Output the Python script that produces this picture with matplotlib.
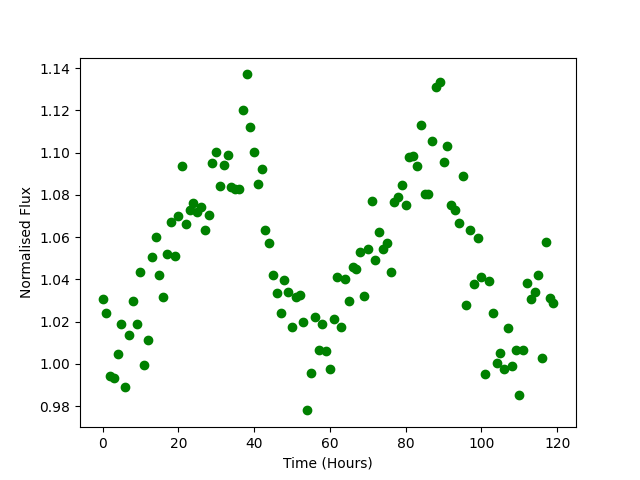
import matplotlib
matplotlib.use('Agg')
import numpy as np
import matplotlib.pyplot as plt

# hourly samples, 0..119
time_hours = np.arange(120)

flux = [
    1.0305, 1.0243, 0.9942, 0.9931, 1.0045, 1.0191, 0.9889, 1.0139, 1.0297, 1.0191,
    1.0433, 0.9993, 1.0111, 1.0504, 1.0599, 1.0423, 1.0315, 1.0518, 1.0673, 1.0513,
    1.0699, 1.0935, 1.0662, 1.0729, 1.0762, 1.0720, 1.0743, 1.0636, 1.0704, 1.0949,
    1.1002, 1.0840, 1.0940, 1.0987, 1.0835, 1.0826, 1.0830, 1.1200, 1.1370, 1.1120,
    1.1002, 1.0850, 1.0920, 1.0636, 1.0570, 1.0420, 1.0335, 1.0239, 1.0395, 1.0340,
    1.0173, 1.0315, 1.0324, 1.0200, 0.9780, 0.9955, 1.0220, 1.0065, 1.0187, 1.0059,
    0.9978, 1.0212, 1.0409, 1.0177, 1.0404, 1.0297, 1.0457, 1.0447, 1.0528, 1.0320,
    1.0542, 1.0770, 1.0490, 1.0622, 1.0542, 1.0570, 1.0433, 1.0764, 1.0788, 1.0845,
    1.0750, 1.0980, 1.0985, 1.0935, 1.1129, 1.0802, 1.0802, 1.1053, 1.1309, 1.1332,
    1.0954, 1.1029, 1.0750, 1.0729, 1.0665, 1.0887, 1.0277, 1.0636, 1.0376, 1.0594,
    1.0409, 0.9950, 1.0390, 1.0239, 1.0002, 1.0050, 0.9978, 1.0168, 0.9988, 1.0068,
    0.9855, 1.0064, 1.0381, 1.0305, 1.0338, 1.0419, 1.0026, 1.0575, 1.0310, 1.0286,
]

fig = plt.figure(figsize=(6.4, 4.8), dpi=100)
plt.plot(time_hours, flux, 'go')
plt.xlabel("Time (Hours)")
plt.ylabel("Normalised Flux")
plt.savefig('out.png')
